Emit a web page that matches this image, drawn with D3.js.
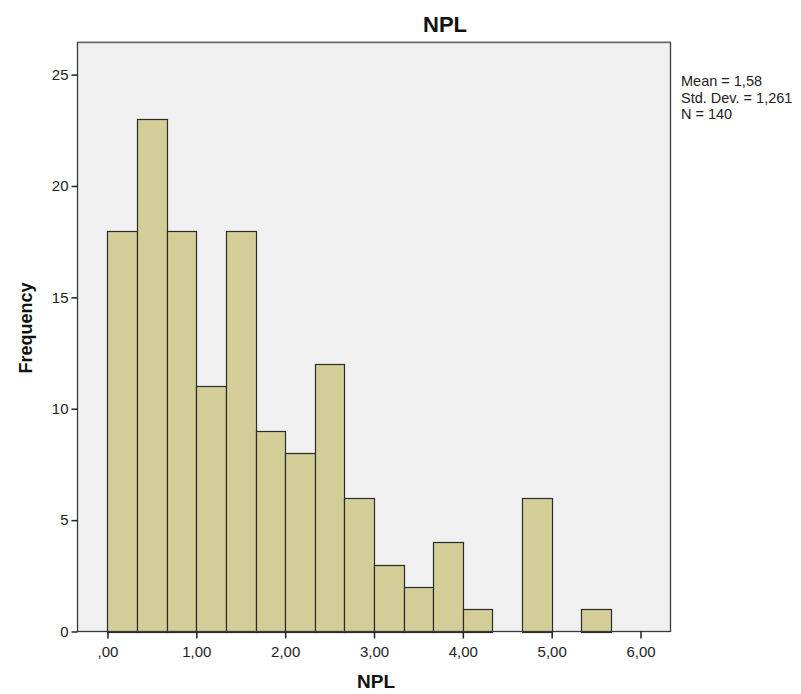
<!DOCTYPE html>
<html>
<head>
<meta charset="utf-8">
<script src="https://cdn.jsdelivr.net/npm/d3@7/dist/d3.min.js"></script>
<style>
  html, body { margin: 0; padding: 0; background: #ffffff; }
  svg { display: block; font-family: "Liberation Sans", Arial, sans-serif; }
</style>
</head>
<body>
<svg id="chart" width="801" height="694"></svg>
<script>
// Histogram of NPL: bins of width 1/3 starting at 0
const binStart = 0;
const binWidth = 1 / 3;
const counts = [18, 23, 18, 11, 18, 9, 8, 12, 6, 3, 2, 4, 1, 0, 6, 0, 1, 0];

const xTickValues = [0, 1, 2, 3, 4, 5, 6];
const xTickLabels = [",00", "1,00", "2,00", "3,00", "4,00", "5,00", "6,00"];
const yTickValues = [0, 5, 10, 15, 20, 25];

const statLines = ["Mean = 1,58", "Std. Dev. = 1,261", "N = 140"];
const chartTitle = "NPL";
const xTitle = "NPL";
const yTitle = "Frequency";

const svg = d3.select("#chart");

// plot frame in pixels
const plotLeft = 77.5, plotRight = 670.5, plotTop = 42.5, plotBottom = 631.5;

const x = d3.scaleLinear().domain([-0.3375, 6.3375]).range([plotLeft, plotRight]);
const y = d3.scaleLinear().domain([0, 26.44]).range([plotBottom, plotTop]);

// background panel
svg.append("rect")
  .attr("x", plotLeft).attr("y", plotTop)
  .attr("width", plotRight - plotLeft).attr("height", plotBottom - plotTop)
  .attr("fill", "#f0f0f0");

// bars
const bins = counts.map((c, i) => ({
  x0: binStart + i * binWidth,
  x1: binStart + (i + 1) * binWidth,
  count: c
})).filter(d => d.count > 0);

svg.append("g").selectAll("rect")
  .data(bins)
  .join("rect")
  .attr("x", d => Math.round(x(d.x0)) + 0.5)
  .attr("y", d => Math.round(y(d.count)) + 0.5)
  .attr("width", d => Math.round(x(d.x1)) - Math.round(x(d.x0)))
  .attr("height", d => Math.round(y(0)) - Math.round(y(d.count)))
  .attr("fill", "#d3ce98")
  .attr("stroke", "#2b2b2b")
  .attr("stroke-width", 1.2);

// frame
svg.append("rect")
  .attr("x", plotLeft).attr("y", plotTop)
  .attr("width", plotRight - plotLeft).attr("height", plotBottom - plotTop)
  .attr("fill", "none")
  .attr("stroke", "#3a3a3a")
  .attr("stroke-width", 1.3);
svg.append("line")
  .attr("x1", plotLeft).attr("x2", plotRight)
  .attr("y1", plotTop - 0.5).attr("y2", plotTop - 0.5)
  .attr("stroke", "#8a8a8a").attr("stroke-width", 1);

// x axis
const xAxis = d3.axisBottom(x)
  .tickValues(xTickValues)
  .tickFormat((d, i) => xTickLabels[i])
  .tickSize(7)
  .tickSizeOuter(0)
  .tickPadding(8);
const gx = svg.append("g")
  .attr("transform", `translate(0,${plotBottom})`)
  .call(xAxis);
gx.select(".domain").remove();
gx.selectAll(".tick line").attr("stroke", "#222").attr("stroke-width", 1.5);
gx.selectAll(".tick text")
  .attr("fill", "#222")
  .style("font-size", "15px")
  .style("font-family", "'Liberation Sans', Arial, sans-serif");

// y axis
const yAxis = d3.axisLeft(y)
  .tickValues(yTickValues)
  .tickSize(6)
  .tickSizeOuter(0)
  .tickPadding(3);
const gy = svg.append("g")
  .attr("transform", `translate(${plotLeft},0)`)
  .call(yAxis);
gy.select(".domain").remove();
gy.selectAll(".tick line").attr("stroke", "#222").attr("stroke-width", 1.5);
gy.selectAll(".tick text")
  .attr("fill", "#222")
  .style("font-size", "15px")
  .style("font-family", "'Liberation Sans', Arial, sans-serif");

// titles
svg.append("text")
  .attr("x", 445).attr("y", 32)
  .attr("text-anchor", "middle")
  .style("font-size", "22px").style("font-weight", "bold")
  .attr("fill", "#111")
  .text(chartTitle);

svg.append("text")
  .attr("x", (plotLeft + plotRight) / 2 + 2).attr("y", 688)
  .attr("text-anchor", "middle")
  .style("font-size", "19px").style("font-weight", "bold")
  .attr("fill", "#111")
  .text(xTitle);

svg.append("text")
  .attr("transform", "translate(32,328) rotate(-90)")
  .attr("text-anchor", "middle")
  .style("font-size", "18px").style("font-weight", "bold")
  .attr("fill", "#111")
  .text(yTitle);

// summary statistics
svg.append("g").selectAll("text")
  .data(statLines)
  .join("text")
  .attr("x", 681)
  .attr("y", (d, i) => 86 + i * 16.5)
  .style("font-size", "14.5px")
  .attr("fill", "#222")
  .text(d => d);
</script>
</body>
</html>
